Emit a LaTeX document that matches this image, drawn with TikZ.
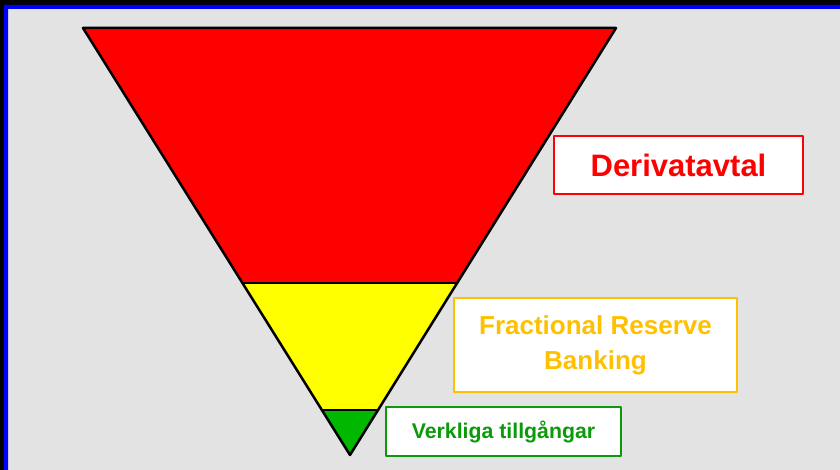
\documentclass[tikz,border=0pt]{standalone}
\usepackage{fontspec}
\setmainfont{Liberation Sans}
\usetikzlibrary{calc}
\definecolor{bggray}{HTML}{E3E3E3}
\definecolor{frameblue}{HTML}{0000FF}
\definecolor{bandyellow}{HTML}{FFFF00}
\definecolor{bankyellow}{HTML}{FFC000}
\definecolor{assetgreen}{HTML}{0A9A0A}
\definecolor{assetfill}{HTML}{00B800}
\tikzset{
  labelbox/.style={draw, fill=white, line width=2pt, align=center, inner sep=0pt},
  band/.style={draw=black, line width=2.5pt}
}
\begin{document}
\begin{tikzpicture}[x=1pt, y=-1pt, line join=round, line cap=round, font=\bfseries]
			% frame and background
			\fill[black] (0,0) rectangle (840,470);
			\fill[bggray] (8,9) rectangle (840,470);
			\fill[frameblue] (4,5) rectangle (840,9) (4,5) rectangle (8,470);
			\useasboundingbox (0,0) rectangle (840,470);
			
			\pgfmathsetmacro{\cutRed}{(283-28)/(455-28)}
			\pgfmathsetmacro{\cutYellow}{(410-28)/(455-28)}
			
			\path (83,28) coordinate (TL) 
			(616,28) coordinate (TR) 
			(350,455) coordinate (A)
			($(TL)!\cutRed!(A)$) coordinate (RL)
			($(TR)!\cutRed!(A)$) coordinate (RR)
			($(TL)!\cutYellow!(A)$) coordinate (YL)
			($(TR)!\cutYellow!(A)$) coordinate (YR);
			
			\fill[red] (TL) -- (TR) -- (RR) -- (RL) -- cycle;
			\fill[bandyellow] (RL) -- (RR) -- (YR) -- (YL) -- cycle;
			\fill[assetfill] (YL) -- (YR) -- (A) -- cycle;
			\draw[band] (RL) -- (RR) (YL) -- (YR);
			\draw[band] (TL) -- (TR) -- (A) -- cycle;
			
			\node[labelbox, draw=red, text=red, minimum width=249pt, minimum height=58pt,
			font=\bfseries\fontsize{31}{36}\selectfont] (deriv) at (678.5,165) {Derivatavtal};
			\node[labelbox, draw=bankyellow, text=bankyellow, minimum width=283pt, minimum height=94pt,
			font=\bfseries\fontsize{26}{35}\selectfont] (frb) at (595.5,345) {Fractional Reserve\\Banking};
			\node[labelbox, draw=assetgreen, text=assetgreen, minimum width=235pt, minimum height=49pt,
			font=\bfseries\fontsize{21.3}{24}\selectfont] (real) at (503.5,431.5) {Verkliga tillgångar};
		\end{tikzpicture}
\end{document}
